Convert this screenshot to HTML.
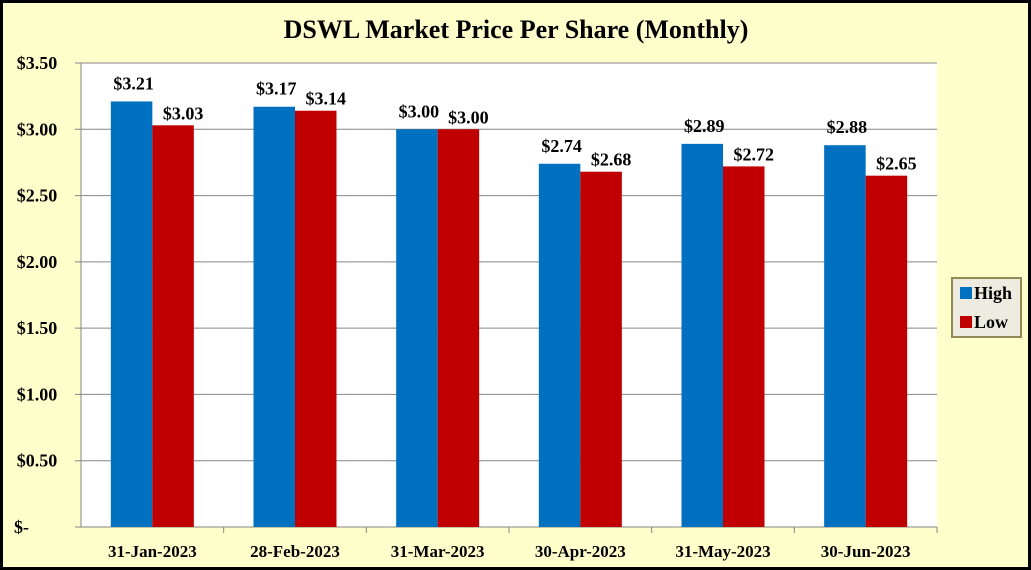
<!DOCTYPE html>
<html><head><meta charset="utf-8"><style>
html,body{margin:0;padding:0;background:#fff}
svg{display:block}
text{font-family:"Liberation Serif",serif;font-weight:bold}
</style></head><body>
<svg id="c" width="1031" height="570">
<rect x="1.5" y="1.5" width="1028" height="567" fill="#FFFFCC" stroke="#000" stroke-width="3"/>
<text x="516" y="38" font-size="26" text-anchor="middle">DSWL Market Price Per Share (Monthly)</text>
<rect x="81" y="63" width="856" height="464" fill="#fff"/>
<g id="grid"></g><g id="bars"></g><g id="labels"></g>
<g>
<rect x="952" y="278" width="69" height="59" fill="#EEECE1" stroke="#948A54" stroke-width="2"/>
<rect x="960" y="287" width="12" height="12" fill="#0070C0"/>
<text x="974" y="299" font-size="18">High</text>
<rect x="960" y="316" width="12" height="12" fill="#C00000"/>
<text x="974" y="328" font-size="18">Low</text>
</g>
</svg>
<script>
const categories=["31-Jan-2023","28-Feb-2023","31-Mar-2023","30-Apr-2023","31-May-2023","30-Jun-2023"];
const highValues=[3.21,3.17,3.00,2.74,2.89,2.88];
const lowValues=[3.03,3.14,3.00,2.68,2.72,2.65];
const tickValues=[0,0.5,1,1.5,2,2.5,3,3.5];
const tickLabels=["$-","$0.50","$1.00","$1.50","$2.00","$2.50","$3.00","$3.50"];
const NS="http://www.w3.org/2000/svg";
const L=81,R=937,T=63,B=527,MAX=3.5;
const y=v=>B-(v/MAX)*(B-T);
const bw=(R-L)/categories.length;
const x=i=>L+bw*i;
function mk(tag,attrs,parent,txt){const e=document.createElementNS(NS,tag);for(const k in attrs)e.setAttribute(k,attrs[k]);if(txt!==undefined)e.textContent=txt;document.getElementById(parent).appendChild(e);return e;}
tickValues.forEach((v,i)=>{
  const g=mk("line",{x1:L-6,x2:R,y1:y(v),y2:y(v),stroke:"#868686","stroke-width":1},"grid");
  
  
  const t=mk("text",{x:v===0?48:37,y:y(v)+6,"font-size":18,"text-anchor":v===0?"start":"middle"},"labels",tickLabels[i]);
  if(v===0){t.setAttribute('x',14);}
  
  
});
mk("line",{x1:L,x2:L,y1:T,y2:B,stroke:"#868686"},"grid");
categories.forEach((c,i)=>{
  const tk=mk("line",{x1:x(i+1),x2:x(i+1),y1:B,y2:B+6,stroke:"#868686"},"grid");
  
  
  const cx=x(i)+bw/2, w=41.5;
  const h=mk("rect",{x:cx-w,y:y(highValues[i]),width:w,height:B-y(highValues[i]),fill:"#0070C0"},"bars");
  
  
  const lo=mk("rect",{x:cx,y:y(lowValues[i]),width:w,height:B-y(lowValues[i]),fill:"#C00000"},"bars");
  
  
  const hl=mk("text",{x:cx-w/2+2,y:y(highValues[i])-12,"font-size":18,"text-anchor":"middle"},"labels","$"+highValues[i].toFixed(2));
  
  
  const ll=mk("text",{x:cx+w/2+10,y:y(lowValues[i])-6,"font-size":18,"text-anchor":"middle"},"labels","$"+lowValues[i].toFixed(2));
  
  
  const cl=mk("text",{x:cx,y:557,"font-size":17,"text-anchor":"middle"},"labels",c);
  
  
});
</script>
</body></html>
